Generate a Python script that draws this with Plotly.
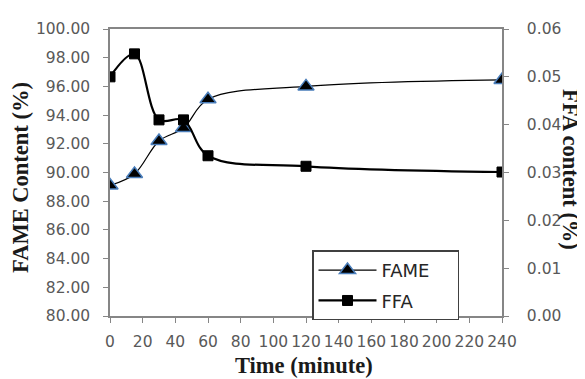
import plotly.graph_objects as go

time_min = [0, 15, 30, 45, 60, 120, 240]
fame = [89.1, 89.9, 92.2, 93.1, 95.1, 96.0, 96.45]
ffa = [0.0500, 0.0548, 0.0410, 0.0410, 0.0335, 0.0313, 0.0301]

x_ticks = [0, 20, 40, 60, 80, 100, 120, 140, 160, 180, 200, 220, 240]
left_ticks = [80, 82, 84, 86, 88, 90, 92, 94, 96, 98, 100]
right_ticks = [0.00, 0.01, 0.02, 0.03, 0.04, 0.05, 0.06]

# The page body has an 8px margin, so the figure is drawn 8px in and 8px down.
OFF = 8
W, H = 585 - OFF, 379 - OFF
# plot area in screen pixels: x 110..502, y 23..316
L, R, T, B = 110 - OFF, 585 - 502, 23 - OFF, 379 - 316
pw, ph = W - L - R, H - T - B

def px_x(sx):
    return (sx - 110) / pw

def px_y(sy):
    return (316 - sy) / ph

tick_font = dict(family="DejaVu Sans", size=15.5, color="#595959")
title_font = dict(family="Liberation Serif", size=22.5, color="#1a1a1a")
axis_col = "#868686"

fig = go.Figure()
fig.add_trace(go.Scatter(
    x=time_min, y=fame, name="FAME" + "\u00a0" * 4, mode="lines+markers",
    legendgroup="a",
    line=dict(color="black", width=1.2, shape="spline", smoothing=1),
    marker=dict(symbol="triangle-up", size=14, color="black",
                line=dict(color="#4a7ebb", width=1.5)),
    yaxis="y"))
fig.add_trace(go.Scatter(
    x=time_min, y=ffa, name="FFA", mode="lines+markers",
    legendgroup="b",
    line=dict(color="black", width=2.2, shape="spline", smoothing=1),
    marker=dict(symbol="square", size=10, color="black",
                line=dict(color="black", width=1)),
    yaxis="y2"))

fig.update_layout(
    width=W, height=H,
    margin=dict(l=L, r=R, t=T, b=B),
    paper_bgcolor="white", plot_bgcolor="white",
    showlegend=True,
    legend=dict(
        x=px_x(312), y=px_y(249), xanchor="left", yanchor="top",
        bgcolor="white", bordercolor="#404040", borderwidth=1.5,
        font=dict(family="DejaVu Sans", size=18, color="#262626"),
        itemwidth=58, tracegroupgap=4,
    ),
    xaxis=dict(
        range=[0, 240], tickvals=x_ticks, ticktext=[str(v) for v in x_ticks],
        tickangle=0, showgrid=False, zeroline=False,
        showline=True, linecolor=axis_col, linewidth=1.5, mirror=True,
        ticks="outside", ticklen=5, tickcolor=axis_col, tickwidth=1,
        tickfont=tick_font, ticklabelstandoff=6,
    ),
    yaxis=dict(
        range=[80, 100], tickvals=left_ticks, tickformat=".2f",
        showgrid=False, zeroline=False,
        showline=True, linecolor=axis_col, linewidth=1.5,
        ticks="outside", ticklen=5, tickcolor=axis_col, tickwidth=1,
        tickfont=tick_font, ticklabelstandoff=10,
    ),
    yaxis2=dict(
        range=[0, 0.06], tickvals=right_ticks, tickformat=".2f",
        overlaying="y", side="right", anchor="x",
        showgrid=False, zeroline=False,
        showline=True, linecolor=axis_col, linewidth=1.5,
        ticks="outside", ticklen=5, tickcolor=axis_col, tickwidth=1,
        tickfont=tick_font, ticklabelstandoff=15,
    ),
    annotations=[
        dict(text="<b>Time (minute)</b>", xref="paper", yref="paper",
             x=px_x(304), y=px_y(367), xanchor="center", yanchor="middle",
             showarrow=False, font=title_font),
        dict(text="<b>FAME Content (%)</b>", xref="paper", yref="paper",
             x=px_x(21), y=px_y(175), xanchor="center", yanchor="middle",
             textangle=-90, showarrow=False, font=title_font),
        dict(text="<b>FFA content (%)</b>", xref="paper", yref="paper",
             x=px_x(571), y=px_y(166), xanchor="center", yanchor="middle",
             textangle=90, showarrow=False, font=title_font),
    ],
)

fig.write_html("out.html")
